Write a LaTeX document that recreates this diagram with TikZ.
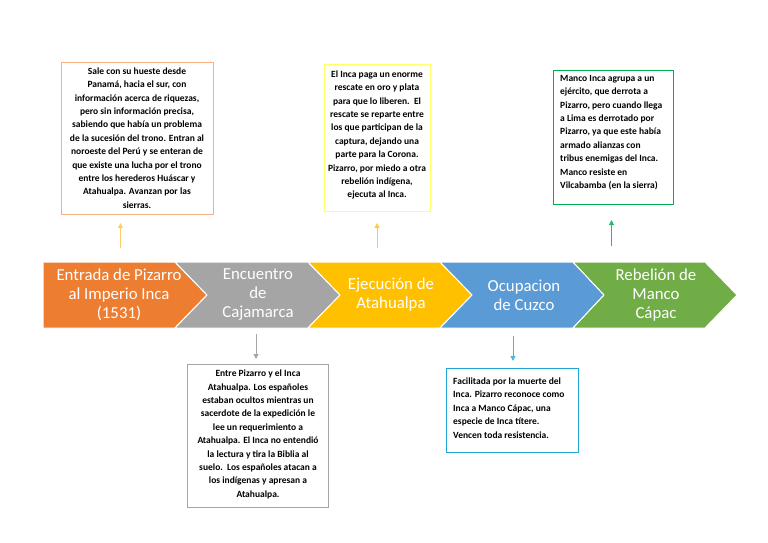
\documentclass[tikz,border=0pt]{standalone}
\usepackage{fontspec}
\setmainfont{Carlito}
\usetikzlibrary{arrows.meta}
\definecolor{cOr}{HTML}{ED7D31}
\definecolor{cGr}{HTML}{A5A5A5}
\definecolor{cYe}{HTML}{FFC000}
\definecolor{cBl}{HTML}{5B9BD5}
\definecolor{cGn}{HTML}{70AD47}
\definecolor{bOr}{HTML}{F4B183}
\definecolor{bYe}{HTML}{FFFF66}
\definecolor{bGn}{HTML}{00B050}
\definecolor{bGr}{HTML}{A6A6A6}
\definecolor{bBl}{HTML}{1FA5D6}
\tikzset{
  chev/.style={draw=white, line width=1pt},
  chevtext/.style={text=white, font=\fontsize{16.8}{19}\selectfont, align=center, inner sep=0pt},
  infotext/.style={font=\fontsize{9.5}{13.4}\selectfont\bfseries, inner sep=0pt, text=black},
  uparrow/.style={draw=#1, line width=1pt, -{Triangle[length=5pt,width=5pt]}},
}
\begin{document}
\begin{tikzpicture}[x=1pt,y=-1pt]
\useasboundingbox (0,0) rectangle (768,543);
% chevrons
\fill[cOr, chev] (43,262) -- (175,262) -- (207,295) -- (175,328) -- (43,328) -- cycle;
\fill[cGr, chev] (175,262) -- (308,262) -- (340,295) -- (308,328) -- (175,328) -- (207,295) -- cycle;
\fill[cYe, chev] (308,262) -- (440,262) -- (472,295) -- (440,328) -- (308,328) -- (340,295) -- cycle;
\fill[cBl, chev] (440,262) -- (573,262) -- (604,295) -- (573,328) -- (440,328) -- (472,295) -- cycle;
\fill[cGn, chev] (573,262) -- (705,262) -- (737,295) -- (705,328) -- (573,328) -- (604,295) -- cycle;
\node[chevtext] (t1) at (119,295) {Entrada de Pizarro\\al Imperio Inca\\(1531)};
\node[chevtext] (t2) at (258,295) {Encuentro\\de\\Cajamarca};
\node[chevtext] (t3) at (391,295) {Ejecución de\\Atahualpa};
\node[chevtext] (t4) at (524,295) {Ocupacion\\de Cuzco};
\node[chevtext] (t5) at (656,295) {Rebelión de\\Manco\\Cápac};
% boxes
\draw[bOr, line width=0.8pt] (61,62) rectangle (213,214);
\node[infotext, align=center] (b1) at (137,138) {Sale con su hueste desde\\Panamá, hacia el sur, con\\información acerca de riquezas,\\pero sin información precisa,\\sabiendo que había un problema\\de la sucesión del trono. Entran al\\noroeste del Perú y se enteran de\\que existe una lucha por el trono\\entre los herederos Huáscar y\\Atahualpa. Avanzan por las\\sierras.};
\draw[bYe, line width=0.8pt] (324,64) rectangle (430,211);
\node[infotext, align=center] (b2) at (377,135) {El Inca paga un enorme\\rescate en oro y plata\\para que lo liberen.\ \ El\\rescate se reparte entre\\los que participan de la\\captura, dejando una\\parte para la Corona.\\Pizarro, por miedo a otra\\rebelión indígena,\\ejecuta al Inca.};
\draw[bGn, line width=0.8pt] (553,70) rectangle (673,204);
\node[infotext, align=left, anchor=west] (b3) at (560,132.5) {Manco Inca agrupa a un\\ejército, que derrota a\\Pizarro, pero cuando llega\\a Lima es derrotado por\\Pizarro, ya que este había\\armado alianzas con\\tribus enemigas del Inca.\\Manco resiste en\\Vilcabamba (en la sierra)};
\draw[bGr, line width=0.8pt] (187,364) rectangle (328,507);
\node[infotext, align=center] (b4) at (258,434.5) {Entre Pizarro y el Inca\\Atahualpa. Los españoles\\estaban ocultos mientras un\\sacerdote de la expedición le\\lee un requerimiento a\\Atahualpa. El Inca no entendió\\la lectura y tira la Biblia al\\suelo.\ \ Los españoles atacan a\\los indígenas y apresan a\\Atahualpa.};
\draw[bBl, line width=0.8pt] (446,368) rectangle (578,452);
\node[infotext, align=left, anchor=west] (b5) at (453,408) {Facilitada por la muerte del\\Inca. Pizarro reconoce como\\Inca a Manco Cápac, una\\especie de Inca títere.\\Vencen toda resistencia.};
% arrows
\coordinate (a1s) at (120.5,248); \coordinate (a1e) at (120.5,223);
\coordinate (a2s) at (256,334); \coordinate (a2e) at (256,359);
\coordinate (a3s) at (377,248); \coordinate (a3e) at (377,223);
\coordinate (a4s) at (513,336); \coordinate (a4e) at (513,361);
\coordinate (a5s) at (611.5,246); \coordinate (a5e) at (611.5,220);
\draw[uparrow=cYe!70!cOr!60] (a1s) -- (a1e);
\draw[uparrow=bGr] (a2s) -- (a2e);
\draw[uparrow=cYe!80] (a3s) -- (a3e);
\draw[uparrow=bBl!80] (a4s) -- (a4e);
\draw[uparrow=bGn!85] (a5s) -- (a5e);
\end{tikzpicture}
\end{document}
